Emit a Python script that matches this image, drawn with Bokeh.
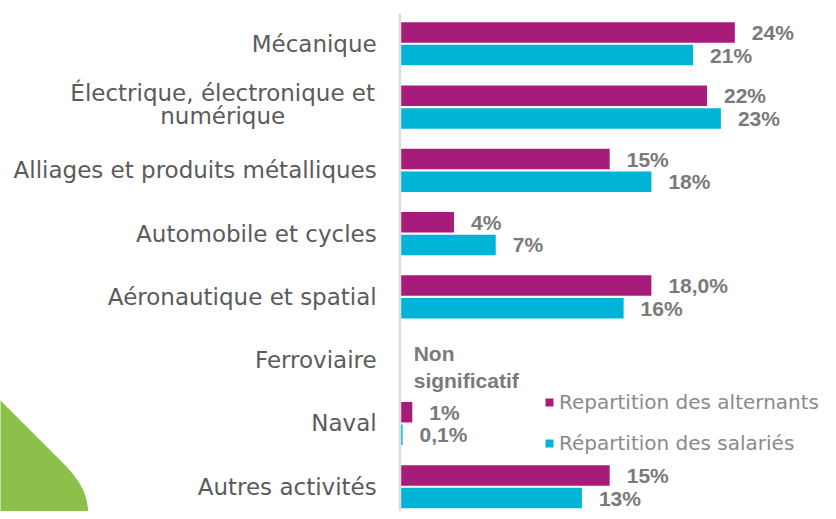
from bokeh.plotting import figure
from bokeh.models import ColumnDataSource, Range1d, Legend, LegendItem
from bokeh.core.properties import value
from bokeh.embed import file_html
from bokeh.resources import INLINE

# ---------------- data ----------------
categories = [
    "Mécanique",
    "Électrique, électronique et\nnumérique",
    "Alliages et produits métalliques",
    "Automobile et cycles",
    "Aéronautique et spatial",
    "Ferroviaire",
    "Naval",
    "Autres activités",
]
series = ["Repartition des alternants", "Répartition des salariés"]
alternants = [24.0, 22.0, 15.0, 3.8, 18.0, float("nan"), 0.8, 15.0]
salaries = [21.0, 23.0, 18.0, 6.8, 16.0, float("nan"), 0.1, 13.0]
alt_labels = ["24%", "22%", "15%", "4%", "18,0%", "", "1%", "15%"]
sal_labels = ["21%", "23%", "18%", "7%", "16%", "", "0,1%", "13%"]
note_category = "Ferroviaire"
note_text = "Non\nsignificatif"

# ---------------- style ----------------
MAGENTA = "#A71C7A"
CYAN = "#00B4D7"
GREEN = "#8DC04B"
CAT_COLOR = "#5B5B5B"
VAL_COLOR = "#7A7A7A"
LEG_COLOR = "#8A8A8A"

W, H = 828, 511
PPU_X = 13.9          # pixels per percent
ZERO_PX = 400.7       # canvas x of the 0 value
U = 22.6              # pixels per y unit
GROUP = 2.8           # y units per category
FIRST_BAR_PX = 32.0   # canvas y of the first bar centre
BAR_PX = 20.5         # bar thickness in pixels

x_start = -ZERO_PX / PPU_X
x_end = (W - ZERO_PX) / PPU_X
y_top = 0.5 + FIRST_BAR_PX / U
y_bot = y_top - H / U

p = figure(width=W, height=H, x_range=Range1d(x_start, x_end), y_range=Range1d(y_bot, y_top),
           output_backend="svg", toolbar_location=None,
           x_axis_location=None, y_axis_location=None, min_border=0)
p.grid.visible = False
p.outline_line_color = None
p.background_fill_color = "white"

# decorative green shape (bottom-left), outline in pixels
blob_px = [(-10, 390), (0, 400), (66, 466), (72, 473), (78, 481), (83, 490), (86, 499),
           (87.5, 508), (88, 530), (-10, 530)]
bx = [(px - ZERO_PX) / PPU_X for px, py in blob_px]
by = [y_top - py / U for px, py in blob_px]
p.patch(bx, by, fill_color=GREEN, line_color=None, level="underlay")

# vertical axis line
p.segment(x0=-0.1, x1=-0.1, y0=y_top - 13 / U, y1=y_bot - 1, line_color="#DCDCDC",
          line_width=2.5, level="underlay")

centers = [-GROUP * i for i in range(len(categories))]
src_alt = ColumnDataSource(dict(y=[c + 0.5 for c in centers], v=alternants, lbl=alt_labels))
src_sal = ColumnDataSource(dict(y=[c - 0.5 for c in centers], v=salaries, lbl=sal_labels))

r1 = p.hbar(y="y", left=0, right="v", height=BAR_PX / U, fill_color=MAGENTA, line_color=None, source=src_alt)
r2 = p.hbar(y="y", left=0, right="v", height=BAR_PX / U, fill_color=CYAN, line_color=None, source=src_sal)

for src in (src_alt, src_sal):
    p.text(x="v", y="y", text="lbl", source=src, x_offset=17, text_align="left",
           text_baseline="middle", text_font=value("Liberation Sans"),
           text_font_style="bold", text_font_size="21px", text_color=VAL_COLOR)

# category labels
single_y = [c for c, name in zip(centers, categories) if "\n" not in name]
single_t = [name for name in categories if "\n" not in name]
multi_y = [c for c, name in zip(centers, categories) if "\n" in name]
multi_t = [name for name in categories if "\n" in name]
p.text(x=0, y=single_y, text=single_t, x_offset=-24.5, text_align="right",
       text_baseline="middle", text_font=value("DejaVu Sans"),
       text_font_size="23px", text_color=CAT_COLOR)
p.text(x=0, y=multi_y, text=multi_t, x_offset=-178.5, y_offset=-3, text_align="center",
       text_baseline="middle", text_font=value("DejaVu Sans"), text_line_height=0.88,
       text_font_size="23px", text_color=CAT_COLOR)

# note for the category without data
note_y = [c for c, name in zip(centers, categories) if name == note_category]
p.text(x=0, y=note_y, text=[note_text], x_offset=12.5, y_offset=7,
       text_align="left", text_baseline="middle", text_font=value("Liberation Sans"),
       text_font_style="bold", text_font_size="21px", text_color=VAL_COLOR)

legend = Legend(items=[LegendItem(label=series[0], renderers=[r1]),
                       LegendItem(label=series[1], renderers=[r2])],
                location=(544, 56), orientation="vertical",
                glyph_width=10, glyph_height=10, label_standoff=5, spacing=17,
                padding=0, margin=0, border_line_color=None, background_fill_alpha=0,
                label_text_font="DejaVu Sans", label_text_font_size="20px",
                label_text_color=LEG_COLOR)
p.add_layout(legend)

open("out.html", "w").write(file_html(p, INLINE))
